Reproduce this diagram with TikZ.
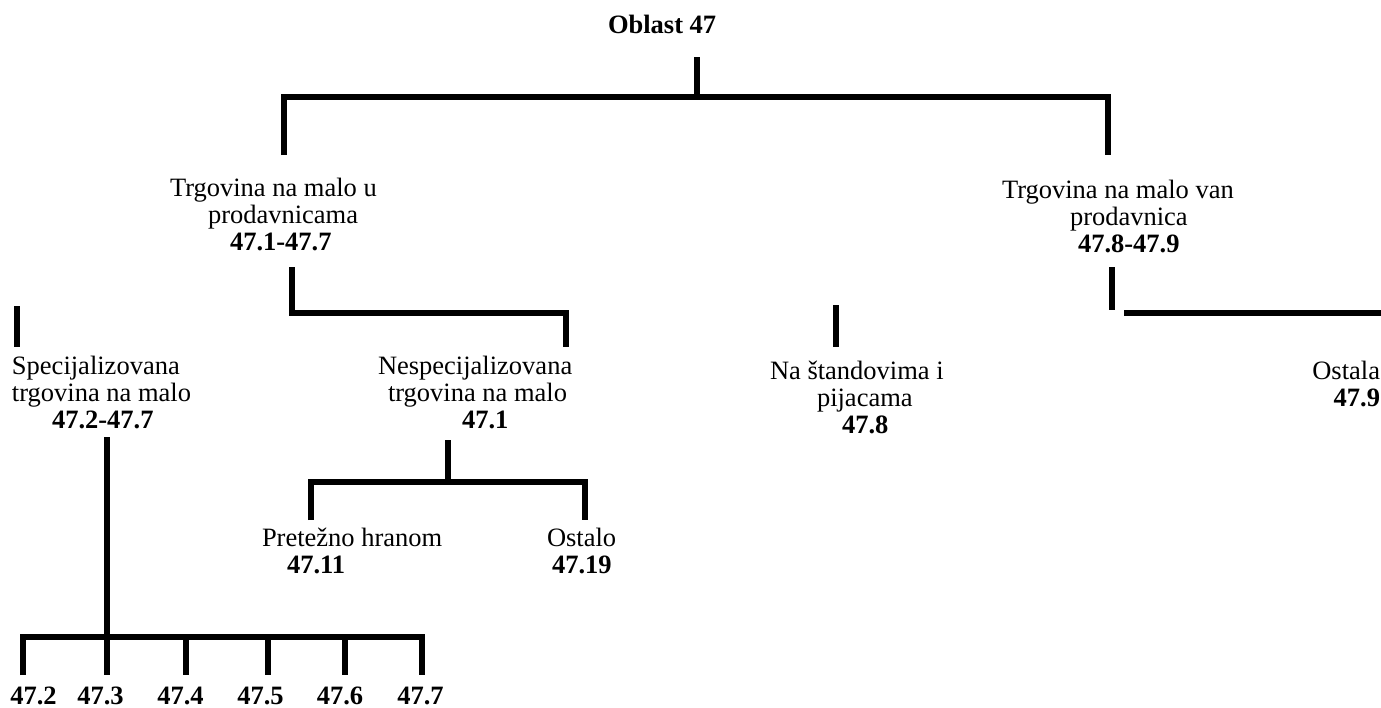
\documentclass[tikz,border=0pt]{standalone}
\usepackage{fontspec}
\setmainfont{Liberation Serif}
\begin{document}
\begin{tikzpicture}[x=1pt,y=-1pt,
  lbl/.style={inner sep=0pt,outer sep=0pt,align=left,anchor=base west,
    font=\fontsize{26.5}{27}\selectfont},
  num/.style={inner sep=0pt,outer sep=0pt,anchor=base,
    font=\fontsize{26.5}{27}\selectfont\bfseries},
  conn/.style={line width=6pt,line cap=butt,line join=miter}]
\useasboundingbox (0,0) rectangle (1381,707);
% texts (base anchor = baseline of the last line)
\node[lbl,font=\fontsize{26.5}{27}\selectfont\bfseries] (root) at (608,33) {Oblast 47};
\node[lbl] (shop) at (170,250) {Trgovina na malo u\\\hspace*{38pt}prodavnicama\\\hspace*{60pt}\textbf{47.1-47.7}};
\node[lbl] (out) at (1002,252) {Trgovina na malo van\\\hspace*{68pt}prodavnica\\\hspace*{76pt}\textbf{47.8-47.9}};
\node[lbl] (spec) at (12,428) {Specijalizovana\\trgovina na malo\\\hspace*{40pt}\textbf{47.2-47.7}};
\node[lbl] (nesp) at (378,428) {Nespecijalizovana\\\hspace*{10pt}trgovina na malo\\\hspace*{84pt}\textbf{47.1}};
\node[lbl] (stand) at (770,433) {Na štandovima i\\\hspace*{47pt}pijacama\\\hspace*{72pt}\textbf{47.8}};
\node[lbl,align=right,anchor=base east] (ostala) at (1380,406) {Ostala\\\textbf{47.9}};
\node[lbl] (hrana) at (262,573) {Pretežno hranom\\\hspace*{25pt}\textbf{47.11}};
\node[lbl] (ostalo) at (547,573) {Ostalo\\\hspace*{5pt}\textbf{47.19}};
\node[num] (g2) at (33.5,704) {47.2};
\node[num] (g3) at (100.5,704) {47.3};
\node[num] (g4) at (180.5,704) {47.4};
\node[num] (g5) at (260.5,704) {47.5};
\node[num] (g6) at (340,704) {47.6};
\node[num] (g7) at (420.5,704) {47.7};
% coordinates
\coordinate (r0) at (697,57);
\coordinate (r1) at (697,97);
\coordinate (tl) at (284,97);
\coordinate (tr) at (1108,97);
\coordinate (tlb) at (284,155);
\coordinate (trb) at (1108,155);
\coordinate (s0) at (292,267);
\coordinate (s1) at (292,313);
\coordinate (s2) at (566,313);
\coordinate (s3) at (566,347);
\coordinate (sp0) at (17,306);
\coordinate (sp1) at (17,347);
\coordinate (na0) at (836,305);
\coordinate (na1) at (836,347);
\coordinate (o0) at (1112,267);
\coordinate (o1) at (1112,310);
\coordinate (o2) at (1124,313);
\coordinate (o3) at (1381,313);
\coordinate (n0) at (448,440);
\coordinate (n1) at (448,482);
\coordinate (nl) at (311,482);
\coordinate (nr) at (585,482);
\coordinate (nlb) at (311,520);
\coordinate (nrb) at (585,520);
\coordinate (p0) at (107,437);
\coordinate (p1) at (107,637);
\coordinate (pl) at (23,637);
\coordinate (pr) at (422,637);
\foreach \n/\x in {a/23,b/107,c/186,d/268,e/345,f/422}{
  \coordinate (q\n) at (\x,637);
  \coordinate (b\n) at (\x,675);
}
% connectors
\draw[conn] (r0) -- (r1);
\draw[conn] (tlb) -- (tl) -- (tr) -- (trb);
\draw[conn] (s0) -- (s1) -- (s2) -- (s3);
\draw[conn] (sp0) -- (sp1);
\draw[conn] (na0) -- (na1);
\draw[conn] (o0) -- (o1);
\draw[conn] (o2) -- (o3);
\draw[conn] (n0) -- (n1);
\draw[conn] (nlb) -- (nl) -- (nr) -- (nrb);
\draw[conn] (p0) -- (p1);
\draw[conn] (ba) -- (pl) -- (pr) -- (bf);
\foreach \n in {b,c,d,e}{ \draw[conn] (q\n) -- (b\n); }
\end{tikzpicture}
\end{document}
